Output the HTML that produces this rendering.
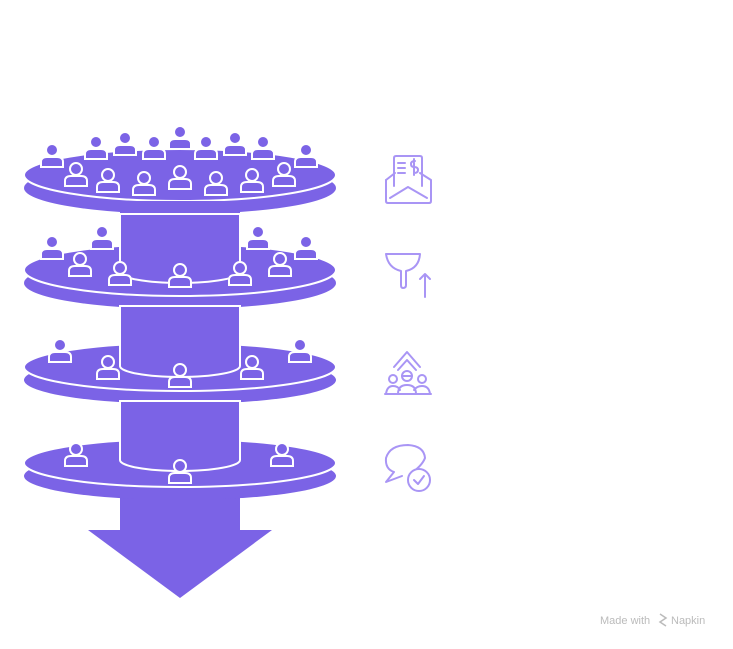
<!DOCTYPE html>
<html><head><style>body{margin:0;background:#fff}svg{display:block}</style></head><body>
<svg width="733" height="649" viewBox="0 0 733 649" xmlns="http://www.w3.org/2000/svg">
<defs>
<g id="p"><path d="M-11 9 V4 Q-11 -1 -5 -1 H5 Q11 -1 11 4 V9 Z" fill="#7b63e6" stroke="#fff" stroke-width="2"/><circle cx="0" cy="-8" r="6" fill="#7b63e6" stroke="#fff" stroke-width="2"/></g>
</defs>
<g fill="#7b63e6">
<rect x="120" y="480" width="120" height="52"/>
<polygon points="88,530 272,530 180,598"/>
<rect x="120" y="190" width="120" height="90"/>
<rect x="120" y="285" width="120" height="90"/>
<rect x="120" y="380" width="120" height="90"/>
</g>
<ellipse cx="180" cy="188" rx="156" ry="26" fill="#7b63e6"/>
<ellipse cx="180" cy="175" rx="156" ry="26" fill="#7b63e6" stroke="#fff" stroke-width="2"/>
<rect x="121" y="201" width="118" height="60" fill="#7b63e6"/>
<ellipse cx="180" cy="283" rx="156" ry="26" fill="#7b63e6"/>
<ellipse cx="180" cy="270" rx="156" ry="26" fill="#7b63e6" stroke="#fff" stroke-width="2"/>
<path d="M120 214 V272 A60 11 0 0 0 240 272 V214 Z" fill="#7b63e6" stroke="#fff" stroke-width="2"/>
<ellipse cx="180" cy="380" rx="156" ry="24" fill="#7b63e6"/>
<ellipse cx="180" cy="367" rx="156" ry="24" fill="#7b63e6" stroke="#fff" stroke-width="2"/>
<path d="M120 306 V366 A60 11 0 0 0 240 366 V306 Z" fill="#7b63e6" stroke="#fff" stroke-width="2"/>
<ellipse cx="180" cy="476" rx="156" ry="24" fill="#7b63e6"/>
<ellipse cx="180" cy="463" rx="156" ry="24" fill="#7b63e6" stroke="#fff" stroke-width="2"/>
<path d="M120 401 V460 A60 11 0 0 0 240 460 V401 Z" fill="#7b63e6" stroke="#fff" stroke-width="2"/>
<rect x="121" y="499" width="118" height="10" fill="#7b63e6"/>
<use href="#p" x="180" y="140"/><use href="#p" x="154" y="150"/><use href="#p" x="206" y="150"/>
<use href="#p" x="125" y="146"/><use href="#p" x="235" y="146"/><use href="#p" x="96" y="150"/><use href="#p" x="263" y="150"/>
<use href="#p" x="52" y="158"/><use href="#p" x="306" y="158"/>
<use href="#p" x="76" y="177"/><use href="#p" x="108" y="183"/><use href="#p" x="144" y="186"/><use href="#p" x="180" y="180"/><use href="#p" x="216" y="186"/><use href="#p" x="252" y="183"/><use href="#p" x="284" y="177"/>
<use href="#p" x="52" y="250"/><use href="#p" x="102" y="240"/><use href="#p" x="258" y="240"/><use href="#p" x="306" y="250"/>
<use href="#p" x="80" y="267"/><use href="#p" x="120" y="276"/><use href="#p" x="180" y="278"/><use href="#p" x="240" y="276"/><use href="#p" x="280" y="267"/>
<use href="#p" x="60" y="353"/><use href="#p" x="300" y="353"/><use href="#p" x="108" y="370"/><use href="#p" x="180" y="378"/><use href="#p" x="252" y="370"/>
<use href="#p" x="76" y="457"/><use href="#p" x="282" y="457"/><use href="#p" x="180" y="474"/>
<g fill="none" stroke="#a995f5" stroke-width="2" stroke-linecap="round" stroke-linejoin="round">
<path d="M386 180 L386 201 Q386 203 388 203 L429 203 Q431 203 431 201 L431 180 L420 173"/>
<path d="M386 180 L395 173"/>
<path d="M394 186 V158 Q394 156 396 156 H420 Q422 156 422 158 V186"/>
<path d="M390 198 L408 187 L427 198"/>
<path d="M398 163 H405 M398 168 H405 M398 173 H405"/>
<path d="M415 161 Q411 161 411 164 Q411 167 414 167 Q418 167 418 170 Q418 173 414 173 M414 159 V175"/>
<path d="M386 254 H420 Q419 268 406 271 V285 Q406 288 403 288 Q401 288 401 285 V271 Q388 268 386 254 Z"/>
<path d="M425 297 V274 M420 279 L425 274 L430 279"/>
<path d="M394 367 L407 352 L420 367 M398 370 L407 360 L416 370"/>
<circle cx="407" cy="376" r="5"/><path d="M402 376 H412"/>
<circle cx="393" cy="379" r="4"/><circle cx="422" cy="379" r="4"/>
<path d="M386 394 Q387 386 393 386 Q398 386 400 390 M430 394 Q429 386 422 386 Q417 386 414 390 M398 394 Q398 385 407 385 Q416 385 416 394 M385 394 H431"/>
<path d="M410 474 Q422 466 425 458 Q424 446 408 445 Q390 445 386 458 Q385 469 394 472 L386 482 L402 476"/>
<circle cx="419" cy="480" r="11" fill="#fff"/>
<path d="M414 480 L418 484 L424 476"/>
</g>
<text x="600" y="624" font-family="Liberation Sans, sans-serif" font-size="11" fill="#bbb">Made with</text>
<path d="M660 614 L666 618 L660 622 L666 626" fill="none" stroke="#bbb" stroke-width="1.5"/>
<text x="671" y="624" font-family="Liberation Sans, sans-serif" font-size="11" fill="#bbb">Napkin</text>
</svg>
</body></html>
